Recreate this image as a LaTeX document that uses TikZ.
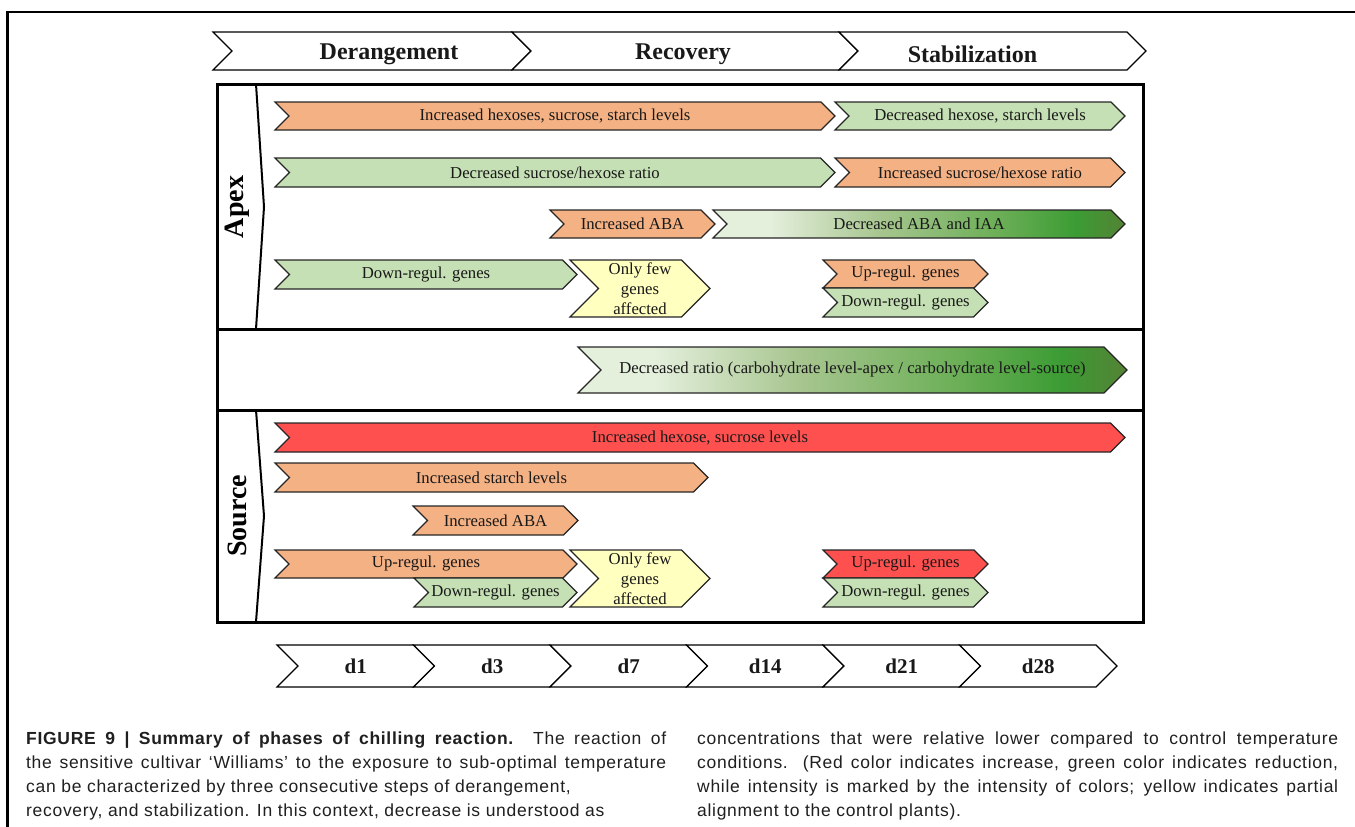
\documentclass[tikz,border=0pt]{standalone}
\usepackage{fontspec}
\setmainfont{Liberation Serif}
\newfontfamily\capfont[LetterSpace=4]{Liberation Sans}

\definecolor{incorange}{HTML}{F4B183}
\definecolor{decgreen}{HTML}{C5E0B4}
\definecolor{increda}{HTML}{FF5050}
\definecolor{partyellow}{HTML}{FFFFC0}
\definecolor{grA}{HTML}{E4EFDC}
\definecolor{grB}{HTML}{A8C690}
\definecolor{grC}{HTML}{6AAE55}
\definecolor{grD}{HTML}{3C9C34}
\definecolor{grE}{HTML}{548235}

\pgfdeclarehorizontalshading{abagreen}{100bp}{color(0bp)=(grA); color(25bp)=(grA); color(32bp)=(grA); color(45bp)=(grB); color(60bp)=(grC); color(69bp)=(grD); color(75bp)=(grE); color(100bp)=(grE)}

\tikzset{
  barline/.style={line width=1.2pt,draw=black!85,line join=miter},
  incbar/.style={barline,fill=incorange},
  decbar/.style={barline,fill=decgreen},
  redbar/.style={barline,fill=increda},
  yelbar/.style={barline,fill=partyellow},
  gradbar/.style={barline,shade,shading=abagreen},
  timebar/.style={line width=1.2pt,draw=black,fill=white},
  bartext/.style={font=\fontsize{16.7}{20}\selectfont,text=black!90,inner sep=0pt,align=center},
  phasetext/.style={font=\fontsize{24}{26}\selectfont\bfseries},
  daytext/.style={font=\fontsize{21}{24}\selectfont\bfseries},
  sidelabel/.style={font=\fontsize{28}{30}\selectfont\bfseries,rotate=90,inner sep=0pt},
  framebox/.style={line width=3pt},
  sepline/.style={line width=2pt},
  captext/.style={font=\capfont\fontsize{17.5}{24}\selectfont,text=black!88,anchor=base west,inner sep=0pt}
}

% chevron bar: [node opts]{name}{style}{left x}{tip x}{top y}{bottom y}{text}
\newcommand{\chevbar}[8][]{%
  \pgfmathsetmacro{\chmid}{(#6+#7)/2}%
  \pgfmathsetmacro{\chdep}{(#7-#6)/2}%
  \pgfmathsetmacro{\chcx}{(#4+#5)/2}%
  \draw[#3] (#4,#6) -- ({#5-\chdep},#6) -- (#5,\chmid) -- ({#5-\chdep},#7) -- (#4,#7) -- ({#4+\chdep},\chmid) -- cycle;
  \node[bartext,#1] (#2) at (\chcx,\chmid) {#8};
}

\begin{document}
\begin{tikzpicture}[x=1pt,y=-1pt]
\useasboundingbox (0,0) rectangle (1355,827);

% page frame
\draw[line width=2.5pt] (7.5,827) -- (7.5,12) -- (1355,12);

% phases
\chevbar[phasetext,xshift=17pt,yshift=-3pt]{derange}{timebar}{213}{531}{32}{70}{Derangement}
\chevbar[phasetext,xshift=-2pt,yshift=-3pt]{recover}{timebar}{512}{858}{32}{70}{Recovery}
\chevbar[phasetext,xshift=-20pt,yshift=-3pt]{stabil}{timebar}{839}{1146}{32}{70}{Stabilization}

% main frame
\draw[framebox] (217,84) rectangle (1143,622);
\draw[framebox] (217,329) -- (1143,329);
\draw[framebox] (217,410) -- (1143,410);
\draw[sepline] (256,84) -- (264,207) -- (256,329);
\draw[sepline] (256,410) -- (264,516) -- (256,622);
\node[sidelabel] (apex) at (237,207) {Apex};
\node[sidelabel] (source) at (237,516) {Source};

% apex
\chevbar{apexsug}{incbar}{275}{835}{102}{130}{Increased hexoses, sucrose, starch levels}
\chevbar{apexsugdec}{decbar}{835}{1125}{102}{130}{Decreased hexose, starch levels}
\chevbar{apexratio}{decbar}{275}{835}{158}{187}{Decreased sucrose/hexose ratio}
\chevbar{apexratioinc}{incbar}{835}{1125}{158}{187}{Increased sucrose/hexose ratio}
\chevbar{apexaba}{incbar}{550}{715}{210}{238}{Increased ABA}
\chevbar{apexabadec}{gradbar}{713}{1125}{210}{238}{Decreased ABA and IAA}
\chevbar{apexdown}{decbar}{275}{577}{260}{289}{Down-regul. genes}
\chevbar{apexfew}{yelbar}{570}{710}{260}{317}{Only few\\genes\\affected}
\chevbar{apexuplate}{incbar}{823}{988}{260}{288}{Up-regul. genes}
\chevbar{apexdownlate}{decbar}{823}{988}{288}{317}{Down-regul. genes}

% apex / source
\chevbar{ratio}{gradbar}{578}{1127}{347}{393}{Decreased ratio (carbohydrate level-apex / carbohydrate level-source)}

% source
\chevbar{srcsug}{redbar}{275}{1125}{423}{452}{Increased hexose, sucrose levels}
\chevbar{srcstarch}{incbar}{275}{708}{463}{492}{Increased starch levels}
\chevbar{srcaba}{incbar}{413}{578}{506}{535}{Increased ABA}
\chevbar{srcup}{incbar}{275}{577}{550}{578}{Up-regul. genes}
\chevbar{srcdown}{decbar}{414}{577}{578}{607}{Down-regul. genes}
\chevbar{srcfew}{yelbar}{570}{710}{550}{607}{Only few\\genes\\affected}
\chevbar{srcuplate}{redbar}{823}{988}{550}{578}{Up-regul. genes}
\chevbar{srcdownlate}{decbar}{823}{988}{578}{607}{Down-regul. genes}

% days
\foreach \d [count=\i from 0] in {d1,d3,d7,d14,d21,d28}{
  \pgfmathsetmacro{\dl}{277+136.5*\i}
  \chevbar[daytext]{day\i}{timebar}{\dl}{\dl+157.5}{645}{687}{\d}
}

% caption
\node[captext] (capla) at (26,744) {\makebox[640pt][s]{\textbf{FIGURE 9 | Summary of phases of chilling reaction.} The reaction of}};
\node[captext] (caplb) at (26,768) {\makebox[640pt][s]{the sensitive cultivar ‘Williams’ to the exposure to sub-optimal temperature}};
\node[captext] (caplc) at (26,792) {can be characterized by three consecutive steps of derangement,};
\node[captext] (capld) at (26,816) {recovery, and stabilization. In this context, decrease is understood as};
\node[captext] (capra) at (697,744) {\makebox[641pt][s]{concentrations that were relative lower compared to control temperature}};
\node[captext] (caprb) at (697,768) {\makebox[641pt][s]{conditions. (Red color indicates increase, green color indicates reduction,}};
\node[captext] (caprc) at (697,792) {\makebox[641pt][s]{while intensity is marked by the intensity of colors; yellow indicates partial}};
\node[captext] (caprd) at (697,816) {alignment to the control plants).};
\end{tikzpicture}
\end{document}
